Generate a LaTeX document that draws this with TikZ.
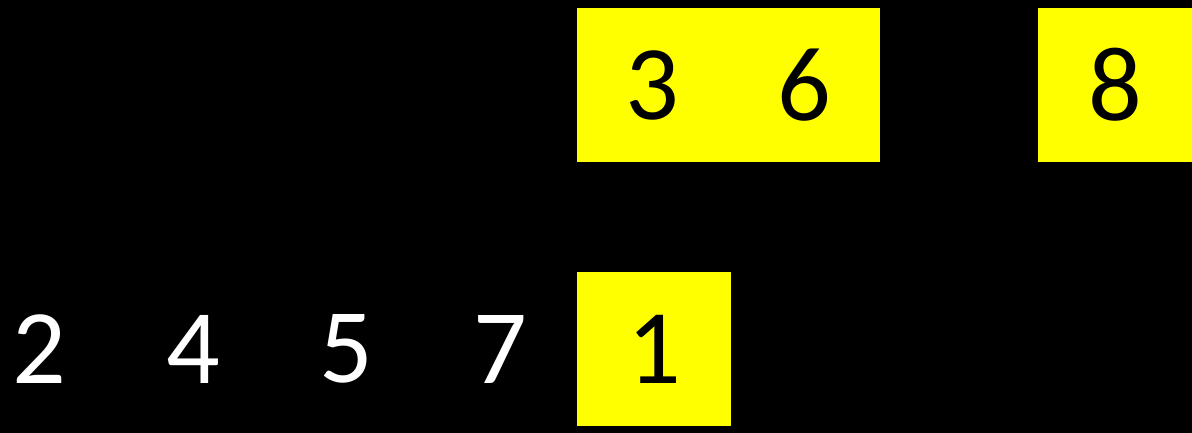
\documentclass[tikz,border=0pt]{standalone}
\usepackage{fontspec}
\setmainfont{Carlito}
\usetikzlibrary{positioning}
\definecolor{mark}{RGB}{255,255,0}

\begin{document}
\begin{tikzpicture}[
    x=1pt, y=-1pt,
    cell/.style={rectangle, inner sep=0pt, minimum height=154pt,
                 font=\fontsize{106}{110}\selectfont},
    open/.style={cell, minimum width=154pt, text=white},
    picked/.style={cell, minimum width=154pt, fill=mark, text=black},
    pair/.style={cell, minimum width=151.5pt, fill=mark, text=black}
]

% Background
\fill[black] (0,0) rectangle (1192,433);
\useasboundingbox (0,0) rectangle (1192,433);

% Top row (selected)
\node[pair] (n3) at (652.75, 85) {3};
\node[pair] (n6) at (804.25, 85) {6};
\node[picked] (n8) at (1115, 85) {8};

% Bottom row
\node[open] (n2) at (39, 349) {2};
\node[open] (n4) at (193, 349) {4};
\node[open] (n5) at (346, 349) {5};
\node[open] (n7) at (500, 349) {7};
\node[picked] (n1) at (654, 349) {1};

\end{tikzpicture}
\end{document}
